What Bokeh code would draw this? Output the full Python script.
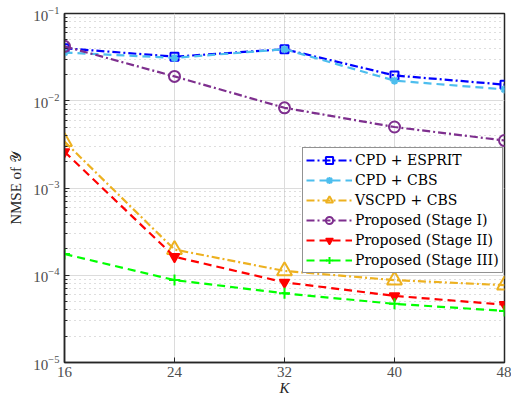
from bokeh.plotting import figure
from bokeh.models import FixedTicker, Range1d, Legend, LegendItem
from bokeh.embed import file_html
from bokeh.resources import INLINE

K = [16, 24, 32, 40, 48]
cpd_esprit = [0.040, 0.032, 0.039, 0.0195, 0.0153]
cpd_cbs = [0.0357, 0.031, 0.039, 0.017, 0.0135]
vscpd_cbs = [0.0034, 1.97e-4, 1.12e-4, 8.8e-5, 7.7e-5]
stage1 = [0.042, 0.019, 0.0083, 0.005, 0.0035]
stage2 = [0.0026, 1.63e-4, 8.3e-5, 5.8e-5, 4.6e-5]
stage3 = [1.75e-4, 8.8e-5, 6.2e-5, 4.7e-5, 3.9e-5]

labels = ["CPD + ESPRIT", "CPD + CBS", "VSCPD + CBS",
          "Proposed (Stage I)", "Proposed (Stage II)", "Proposed (Stage III)"]

FONT = "Liberation Serif"

p = figure(width=511, height=398, y_axis_type="log", output_backend="svg",
           toolbar_location=None, x_range=Range1d(16, 48), y_range=Range1d(1e-5, 1e-1),
           min_border_left=64, min_border_right=7, min_border_top=13, min_border_bottom=36)
p.background_fill_color = "white"
p.border_fill_color = "white"
p.outline_line_color = "#262626"
p.outline_line_width = 1.5

p.xaxis.ticker = FixedTicker(ticks=K)
p.xaxis.axis_label = "K"
p.xaxis.axis_label_text_font_style = "italic"
p.yaxis.axis_label = "NMSE of 𝒴"
p.yaxis.axis_label_text_font_style = "normal"
for ax in [p.xaxis[0], p.yaxis[0]]:
    ax.axis_label_text_font = FONT
    ax.axis_label_text_font_size = "15px"
    ax.axis_label_text_color = "#262626"
    ax.major_label_text_font = FONT
    ax.major_label_text_font_size = "15px"
    ax.major_label_text_color = "#4d4d4d"
    ax.axis_line_color = "#262626"
    ax.axis_line_width = 1.5
    ax.major_tick_in = 5
    ax.major_tick_out = 0
    ax.minor_tick_in = 3
    ax.minor_tick_out = 0
    ax.major_tick_line_color = "#262626"
    ax.minor_tick_line_color = "#262626"
p.xaxis.axis_label_standoff = 0
p.yaxis.axis_label_standoff = 6
p.xaxis.major_label_standoff = 4

p.xgrid.grid_line_color = "#dcdcdc"
p.ygrid.grid_line_color = "#dcdcdc"
p.ygrid.minor_grid_line_color = "#bdbdbd"
p.ygrid.minor_grid_line_dash = "1 4"
p.xgrid.ticker = FixedTicker(ticks=K)

series = [
    (cpd_esprit, "#0000ff", "8 3 2 3", "square", 8, False),
    (cpd_cbs, "#4dbeee", "8 5", "asterisk", 8, False),
    (vscpd_cbs, "#edb120", "8 3 2 3", "triangle", 15, False),
    (stage1, "#7e2f8e", "8 3 2 3", "circle", 11, False),
    (stage2, "#ff0000", "8 5", "inverted_triangle", 10, True),
    (stage3, "#00ff00", "8 5", "cross", 11, False),
]

items = []
for (vals, color, dash, marker, size, filled), lab in zip(series, labels):
    r1 = p.line(K, vals, line_color=color, line_width=2.2, line_dash=dash)
    if filled:
        r2 = p.scatter(K, vals, marker=marker, size=size, line_color=color, fill_color=color, line_width=1.5)
    else:
        r2 = p.scatter(K, vals, marker=marker, size=size, line_color=color, fill_color="white",
                       fill_alpha=0.0, line_width=2)
    items.append(LegendItem(label=lab, renderers=[r1, r2]))

legend = Legend(items=items, location=(238, 89))
legend.label_text_font = "DejaVu Serif"
legend.label_text_font_size = "14px"
legend.label_text_color = "#000000"
legend.border_line_color = "#262626"
legend.border_line_width = 1.2
legend.glyph_width = 46
legend.glyph_height = 18
legend.label_height = 18
legend.spacing = 2
legend.padding = 3
legend.margin = 0
legend.label_standoff = 3
legend.background_fill_alpha = 1.0
p.add_layout(legend, "center")

open("out.html", "w").write(file_html(p, INLINE))
